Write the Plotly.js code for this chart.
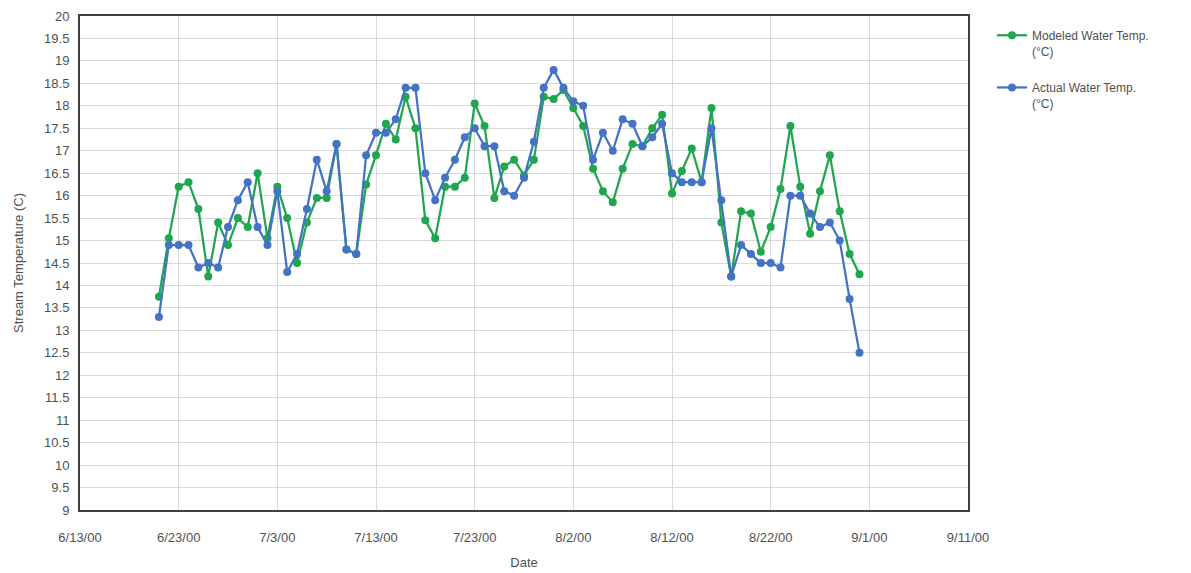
<!DOCTYPE html>
<html>
<head>
<meta charset="utf-8">
<script src="https://cdn.plot.ly/plotly-3.0.1.min.js"></script>
<style>
html,body{margin:0;padding:0;background:#fff;}
#chart{width:1191px;height:573px;}
</style>
</head>
<body>
<div id="chart"></div>
<script>
const dates = [
  "2000-06-21","2000-06-22","2000-06-23","2000-06-24","2000-06-25","2000-06-26","2000-06-27","2000-06-28","2000-06-29","2000-06-30",
  "2000-07-01","2000-07-02","2000-07-03","2000-07-04","2000-07-05","2000-07-06","2000-07-07","2000-07-08","2000-07-09","2000-07-10",
  "2000-07-11","2000-07-12","2000-07-13","2000-07-14","2000-07-15","2000-07-16","2000-07-17","2000-07-18","2000-07-19","2000-07-20",
  "2000-07-21","2000-07-22","2000-07-23","2000-07-24","2000-07-25","2000-07-26","2000-07-27","2000-07-28","2000-07-29","2000-07-30",
  "2000-07-31","2000-08-01","2000-08-02","2000-08-03","2000-08-04","2000-08-05","2000-08-06","2000-08-07","2000-08-08","2000-08-09",
  "2000-08-10","2000-08-11","2000-08-12","2000-08-13","2000-08-14","2000-08-15","2000-08-16","2000-08-17","2000-08-18","2000-08-19",
  "2000-08-20","2000-08-21","2000-08-22","2000-08-23","2000-08-24","2000-08-25","2000-08-26","2000-08-27","2000-08-28","2000-08-29",
  "2000-08-30","2000-08-31"
];

const modeledTemp = [
  13.75, 15.05, 16.2, 16.3, 15.7, 14.2, 15.4, 14.9, 15.5, 15.3,
  16.5, 15.05, 16.2, 15.5, 14.5, 15.4, 15.95, 15.95, 17.15, 14.8,
  14.7, 16.25, 16.9, 17.6, 17.25, 18.2, 17.5, 15.45, 15.05, 16.2,
  16.2, 16.4, 18.05, 17.55, 15.95, 16.65, 16.8, 16.45, 16.8, 18.2,
  18.15, 18.35, 17.95, 17.55, 16.6, 16.1, 15.85, 16.6, 17.15, 17.1,
  17.5, 17.8, 16.05, 16.55, 17.05, 16.3, 17.95, 15.4, 14.2, 15.65,
  15.6, 14.75, 15.3, 16.15, 17.55, 16.2, 15.15, 16.1, 16.9, 15.65,
  14.7, 14.25
];

const actualTemp = [
  13.3, 14.9, 14.9, 14.9, 14.4, 14.5, 14.4, 15.3, 15.9, 16.3,
  15.3, 14.9, 16.1, 14.3, 14.7, 15.7, 16.8, 16.1, 17.15, 14.8,
  14.7, 16.9, 17.4, 17.4, 17.7, 18.4, 18.4, 16.5, 15.9, 16.4,
  16.8, 17.3, 17.5, 17.1, 17.1, 16.1, 16.0, 16.4, 17.2, 18.4,
  18.8, 18.4, 18.1, 18.0, 16.8, 17.4, 17.0, 17.7, 17.6, 17.1,
  17.3, 17.6, 16.5, 16.3, 16.3, 16.3, 17.5, 15.9, 14.2, 14.9,
  14.7, 14.5, 14.5, 14.4, 16.0, 16.0, 15.6, 15.3, 15.4, 15.0,
  13.7, 12.5
];

const seriesNames = ["Modeled Water Temp.<br>(°C)", "Actual Water Temp.<br>(°C)"];
const xTickVals = ["2000-06-13","2000-06-23","2000-07-03","2000-07-13","2000-07-23","2000-08-02","2000-08-12","2000-08-22","2000-09-01","2000-09-11"];
const xTickText = ["6/13/00","6/23/00","7/3/00","7/13/00","7/23/00","8/2/00","8/12/00","8/22/00","9/1/00","9/11/00"];

const green = "#1fa64f";
const blue = "#4472c4";
const fontFam = "Liberation Sans Narrow, Liberation Sans, Arial, sans-serif";
const txtColor = "#505050";

const traces = [
  {
    x: dates, y: modeledTemp, name: seriesNames[0], type: "scatter", mode: "lines+markers",
    line: {color: green, width: 2.25}, marker: {color: green, size: 8},
    legendgroup: "m"
  },
  {
    x: dates, y: actualTemp, name: seriesNames[1], type: "scatter", mode: "lines+markers",
    line: {color: blue, width: 2.25}, marker: {color: blue, size: 8},
    legendgroup: "a"
  }
];

const layout = {
  width: 1191, height: 573,
  margin: {l: 80, r: 223, t: 16, b: 63},
  paper_bgcolor: "#fff", plot_bgcolor: "#fff",
  font: {family: fontFam, size: 12, color: txtColor},
  showlegend: true,
  legend: {
    x: 1.027, y: 0.99, xanchor: "left", yanchor: "top",
    font: {family: fontFam, size: 12, color: txtColor},
    traceorder: "grouped", tracegroupgap: 18, valign: "top",
    bgcolor: "rgba(0,0,0,0)"
  },
  xaxis: {
    type: "date",
    range: ["2000-06-13", "2000-09-11"],
    tickmode: "array", tickvals: xTickVals, ticktext: xTickText,
    showgrid: true, gridcolor: "#d9d9d9", gridwidth: 1,
    showline: true, linecolor: "#404040", linewidth: 2, mirror: true,
    ticks: "", zeroline: false, ticklabelstandoff: 14,
    tickfont: {family: fontFam, size: 13, color: txtColor},
    title: {text: "Date", font: {family: fontFam, size: 13, color: txtColor}, standoff: 14}
  },
  yaxis: {
    range: [9, 20], dtick: 0.5, tick0: 9,
    showgrid: true, gridcolor: "#d9d9d9", gridwidth: 1,
    showline: true, linecolor: "#404040", linewidth: 2, mirror: true,
    ticks: "", zeroline: false, ticklabelstandoff: 6,
    tickfont: {family: fontFam, size: 13, color: txtColor},
    title: {text: "Stream Temperature (C)", font: {family: fontFam, size: 13, color: txtColor}, standoff: 18}
  }
};

Plotly.newPlot("chart", traces, layout, {displayModeBar: false, staticPlot: true});
</script>
</body>
</html>
